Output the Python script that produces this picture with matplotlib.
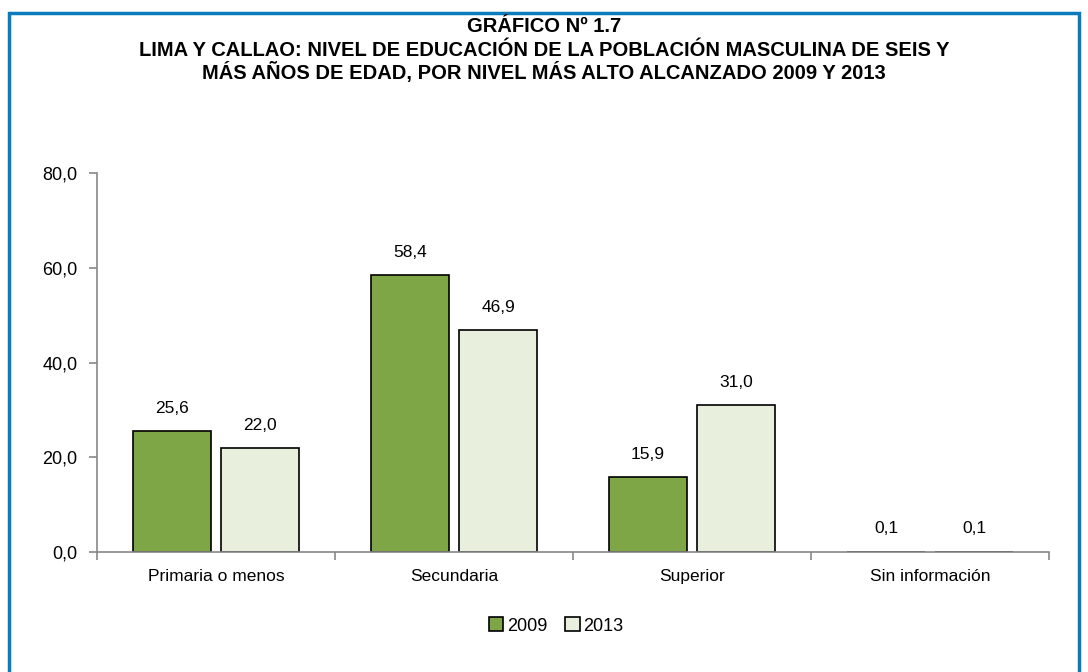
import matplotlib.pyplot as plt
from matplotlib.patches import Rectangle
import numpy as np

categories = ['Primaria o menos', 'Secundaria', 'Superior', 'Sin información']
values_2009 = [25.6, 58.4, 15.9, 0.1]
values_2013 = [22.0, 46.9, 31.0, 0.1]
yticks = [0, 20, 40, 60, 80]

plt.rcParams['font.family'] = ['Liberation Sans Narrow', 'Liberation Sans', 'DejaVu Sans']

fig = plt.figure(figsize=(10.88, 6.72), dpi=100)
ax = fig.add_axes([97 / 1088, 1 - 552 / 672, 952 / 1088, 379 / 672])

x = np.arange(len(categories))
w = 0.328
b1 = ax.bar(x - 0.185, values_2009, w, color='#7ea646', edgecolor='black', linewidth=1.2, label='2009')
b2 = ax.bar(x + 0.185, values_2013, w, color='#e8efdc', edgecolor='black', linewidth=1.2, label='2013')

for bars in (b1, b2):
    for r in bars:
        v = r.get_height()
        ax.text(r.get_x() + r.get_width() / 2, v + 3.2, f'{v:.1f}'.replace('.', ','),
                ha='center', va='bottom', fontsize=12.5)

ax.set_xlim(-0.5, len(categories) - 0.5)
ax.set_ylim(0, 80)
ax.set_yticks(yticks)
ax.set_yticklabels([f'{t:.1f}'.replace('.', ',') for t in yticks], fontsize=13)
ax.set_xticks(x)
ax.set_xticklabels(categories, fontsize=12.5)
ax.tick_params(axis='x', length=0, pad=12)
ax.set_xticks(np.arange(-0.5, len(categories)), minor=True)
ax.tick_params(axis='x', which='minor', length=6, color='#888888', width=1.2)
ax.tick_params(axis='y', length=6, color='#888888', width=1.2, pad=8)
for s in ['top', 'right']:
    ax.spines[s].set_visible(False)
for s in ['left', 'bottom']:
    ax.spines[s].set_color('#888888')
    ax.spines[s].set_linewidth(1.2)

fig.text(0.5, 1 - 26 / 672, 'GRÁFICO Nº 1.7', ha='center', va='center', fontsize=14.5, fontweight='bold')
fig.text(0.5, 1 - 62 / 672,
         'LIMA Y CALLAO: NIVEL DE EDUCACIÓN DE LA POBLACIÓN MASCULINA DE SEIS Y\n'
         'MÁS AÑOS DE EDAD, POR NIVEL MÁS ALTO ALCANZADO 2009 Y 2013',
         ha='center', va='center', fontsize=14.5, fontweight='bold', linespacing=1.15)

fig.legend(loc='center', bbox_to_anchor=(556 / 1088, 1 - 626 / 672), ncol=2, frameon=False,
           fontsize=13, handlelength=0.8, handleheight=0.8, handletextpad=0.2, columnspacing=1.0)

fig.patches.append(Rectangle((9 / 1088, -0.05), 1070 / 1088, 1 - 13 / 672 + 0.05,
                             transform=fig.transFigure, fill=False, edgecolor='#0a7bbd', linewidth=2.5))

fig.savefig('out.png', dpi=100)
